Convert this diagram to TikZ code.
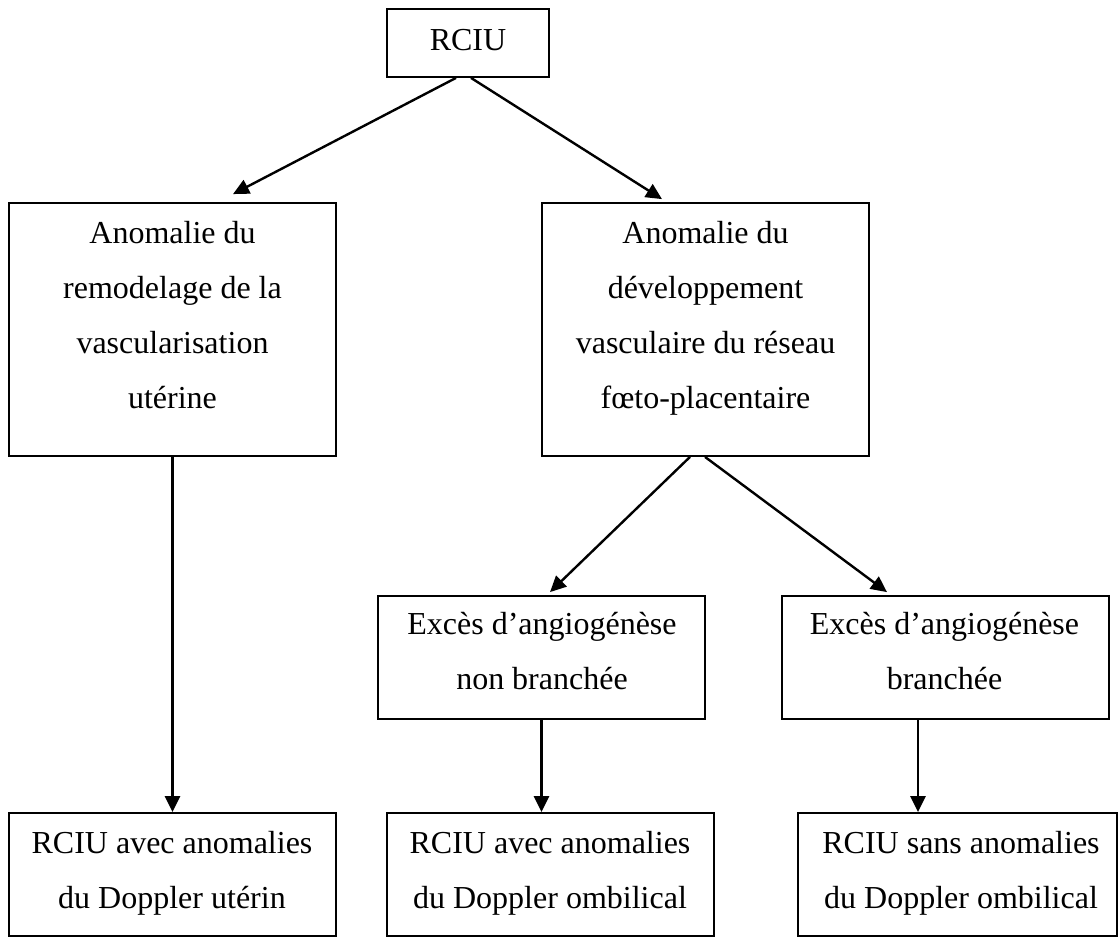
\documentclass[tikz,border=0pt]{standalone}
\usepackage{fontspec}
\setmainfont{Liberation Serif}
\usetikzlibrary{arrows.meta,calc}
\begin{document}
\begin{tikzpicture}[x=1bp,y=-1bp,
  box/.style={draw, line width=1.8bp, inner sep=0},
  txt/.style={font=\fontsize{32bp}{55bp}\selectfont, align=center, inner sep=0, anchor=base},
  arr/.style={line width=2.4bp, -{Triangle[length=16bp,width=15bp]}}]
\useasboundingbox (0,0) rectangle (1119,938);
% boxes
\node[box, minimum width=162bp, minimum height=68bp] (top) at (468,43) {};
\node[box, minimum width=327bp, minimum height=253bp] (L1) at (172.5,329.5) {};
\node[box, minimum width=327bp, minimum height=253bp] (R1) at (705.5,329.5) {};
\node[box, minimum width=327bp, minimum height=123bp] (E1) at (541.5,657.5) {};
\node[box, minimum width=327bp, minimum height=123bp] (E2) at (945.5,657.5) {};
\node[box, minimum width=327bp, minimum height=123bp] (B1) at (172.5,874.5) {};
\node[box, minimum width=327bp, minimum height=123bp] (B2) at (550.5,874.5) {};
\node[box, minimum width=319bp, minimum height=123bp] (B3) at (957.5,874.5) {};
% texts (anchor = baseline of last line)
\node[txt] (tTop) at (468,50) {RCIU};
\node[txt] (tL1) at (172.5,408) {Anomalie du\\remodelage de la\\vascularisation\\utérine};
\node[txt] (tR1) at (705.5,408) {Anomalie du\\développement\\vasculaire du réseau\\fœto-placentaire};
\node[txt] (tE1) at (542,689) {Excès d’angiogénèse\\non branchée};
\node[txt] (tE2) at (944.5,689) {Excès d’angiogénèse\\branchée};
\node[txt] (tB1) at (172,908) {RCIU avec anomalies\\du Doppler utérin};
\node[txt] (tB2) at (550,908) {RCIU avec anomalies\\du Doppler ombilical};
\node[txt] (tB3) at (961,908) {RCIU sans anomalies\\du Doppler ombilical};
% connectors
\draw[arr] ([xshift=-12bp]top.south) -- ([xshift=60.5bp,yshift=8bp]L1.north);
\draw[arr] ([xshift=3bp]top.south) -- ([xshift=-43.5bp,yshift=3bp]R1.north);
\draw[arr] ([xshift=-15.5bp]R1.south) -- ([xshift=8.5bp,yshift=3bp]E1.north);
\draw[arr] ([xshift=-0.5bp]R1.south) -- ([xshift=-58.5bp,yshift=3bp]E2.north);
\coordinate (l1out) at (L1.south);
\draw[arr] (l1out) -- (l1out |- B1.north);
\coordinate (e1out) at (E1.south);
\draw[arr] (e1out) -- (e1out |- B2.north);
\coordinate (e2out) at ([xshift=-27.5bp]E2.south);
\draw[arr] (e2out) -- (e2out |- B3.north);
\end{tikzpicture}
\end{document}
